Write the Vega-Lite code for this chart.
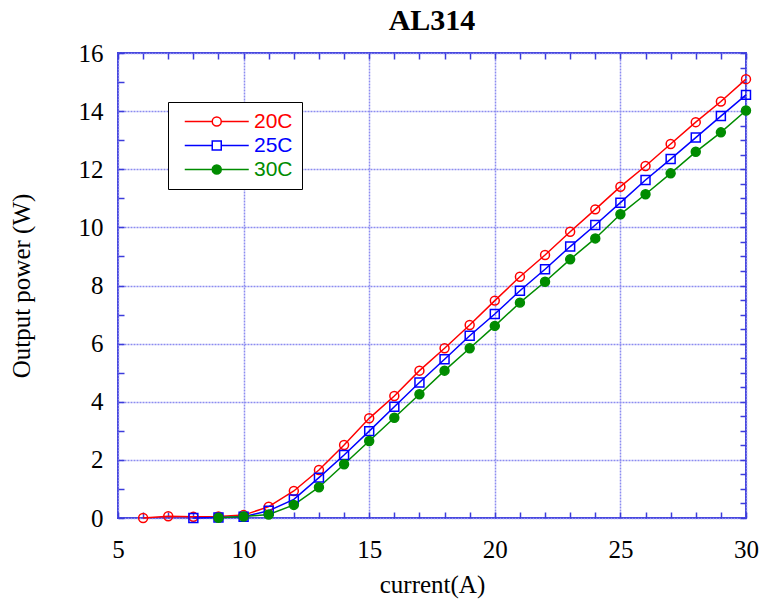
{
  "$schema": "https://vega.github.io/schema/vega-lite/v6.json",
  "width": 628,
  "height": 465,
  "autosize": {"type": "none"},
  "padding": {"left": 118, "top": 53, "right": 17, "bottom": 81},
  "background": "white",
  "title": {"text": "AL314", "font": "Liberation Serif", "fontSize": 30, "fontWeight": "bold", "color": "black", "offset": 5, "anchor": "middle"},
  "config": {
    "view": {"stroke": "#3c3cdc", "strokeWidth": 2},
    "axis": {
      "labelFont": "Liberation Serif", "labelFontSize": 25, "labelColor": "black",
      "titleFont": "Liberation Serif", "titleFontSize": 25, "titleFontWeight": "normal", "titleColor": "black",
      "tickColor": "#3c3cdc", "tickWidth": 1.5, "tickSize": -6, "domain": false,
      "gridColor": "#8c8cf0", "gridDash": [2, 1], "gridWidth": 1.5,
      "labelOverlap": false, "labelBound": false, "labelFlush": false
    }
  },
  "data": {"values": [
    {"I": 6, "P": 0.0, "T": "20C"}, {"I": 7, "P": 0.06, "T": "20C"}, {"I": 8, "P": 0.04, "T": "20C"}, {"I": 9, "P": 0.05, "T": "20C"}, {"I": 10, "P": 0.1, "T": "20C"},
    {"I": 11, "P": 0.39, "T": "20C"}, {"I": 12, "P": 0.93, "T": "20C"}, {"I": 13, "P": 1.65, "T": "20C"}, {"I": 14, "P": 2.51, "T": "20C"}, {"I": 15, "P": 3.43, "T": "20C"},
    {"I": 16, "P": 4.2, "T": "20C"}, {"I": 17, "P": 5.07, "T": "20C"}, {"I": 18, "P": 5.84, "T": "20C"}, {"I": 19, "P": 6.64, "T": "20C"}, {"I": 20, "P": 7.48, "T": "20C"},
    {"I": 21, "P": 8.3, "T": "20C"}, {"I": 22, "P": 9.05, "T": "20C"}, {"I": 23, "P": 9.85, "T": "20C"}, {"I": 24, "P": 10.62, "T": "20C"}, {"I": 25, "P": 11.4, "T": "20C"},
    {"I": 26, "P": 12.11, "T": "20C"}, {"I": 27, "P": 12.87, "T": "20C"}, {"I": 28, "P": 13.62, "T": "20C"}, {"I": 29, "P": 14.33, "T": "20C"}, {"I": 30, "P": 15.1, "T": "20C"},
    {"I": 8, "P": 0.0, "T": "25C"}, {"I": 9, "P": 0.02, "T": "25C"}, {"I": 10, "P": 0.04, "T": "25C"},
    {"I": 11, "P": 0.25, "T": "25C"}, {"I": 12, "P": 0.64, "T": "25C"}, {"I": 13, "P": 1.39, "T": "25C"}, {"I": 14, "P": 2.17, "T": "25C"}, {"I": 15, "P": 2.99, "T": "25C"},
    {"I": 16, "P": 3.83, "T": "25C"}, {"I": 17, "P": 4.66, "T": "25C"}, {"I": 18, "P": 5.46, "T": "25C"}, {"I": 19, "P": 6.27, "T": "25C"}, {"I": 20, "P": 7.02, "T": "25C"},
    {"I": 21, "P": 7.82, "T": "25C"}, {"I": 22, "P": 8.56, "T": "25C"}, {"I": 23, "P": 9.34, "T": "25C"}, {"I": 24, "P": 10.08, "T": "25C"}, {"I": 25, "P": 10.85, "T": "25C"},
    {"I": 26, "P": 11.63, "T": "25C"}, {"I": 27, "P": 12.35, "T": "25C"}, {"I": 28, "P": 13.09, "T": "25C"}, {"I": 29, "P": 13.83, "T": "25C"}, {"I": 30, "P": 14.56, "T": "25C"},
    {"I": 9, "P": 0.01, "T": "30C"}, {"I": 10, "P": 0.05, "T": "30C"},
    {"I": 11, "P": 0.12, "T": "30C"}, {"I": 12, "P": 0.45, "T": "30C"}, {"I": 13, "P": 1.06, "T": "30C"}, {"I": 14, "P": 1.85, "T": "30C"}, {"I": 15, "P": 2.65, "T": "30C"},
    {"I": 16, "P": 3.45, "T": "30C"}, {"I": 17, "P": 4.26, "T": "30C"}, {"I": 18, "P": 5.07, "T": "30C"}, {"I": 19, "P": 5.84, "T": "30C"}, {"I": 20, "P": 6.61, "T": "30C"},
    {"I": 21, "P": 7.41, "T": "30C"}, {"I": 22, "P": 8.13, "T": "30C"}, {"I": 23, "P": 8.9, "T": "30C"}, {"I": 24, "P": 9.62, "T": "30C"}, {"I": 25, "P": 10.45, "T": "30C"},
    {"I": 26, "P": 11.14, "T": "30C"}, {"I": 27, "P": 11.86, "T": "30C"}, {"I": 28, "P": 12.6, "T": "30C"}, {"I": 29, "P": 13.27, "T": "30C"}, {"I": 30, "P": 14.02, "T": "30C"}
  ]},
  "layer": [
    {
      "mark": {"type": "line", "strokeWidth": 1.5},
      "encoding": {
        "x": {"field": "I", "type": "quantitative", "scale": {"domain": [5, 30], "nice": false, "zero": false},
          "axis": {"orient": "bottom", "values": [5,6,7,8,9,10,11,12,13,14,15,16,17,18,19,20,21,22,23,24,25,26,27,28,29,30],
            "format": "d",
            "labelExpr": "datum.value % 5 == 0 ? datum.label : ''", "labelPadding": 25,
            "grid": true, "gridOpacity": {"condition": {"test": "datum.value % 5 == 0", "value": 1}, "value": 0},
            "title": "current(A)", "titlePadding": 10}},
        "y": {"field": "P", "type": "quantitative", "scale": {"domain": [0, 16], "nice": false},
          "axis": {"orient": "left", "values": [0,0.5,1,1.5,2,2.5,3,3.5,4,4.5,5,5.5,6,6.5,7,7.5,8,8.5,9,9.5,10,10.5,11,11.5,12,12.5,13,13.5,14,14.5,15,15.5,16],
            "format": "d",
            "labelExpr": "datum.value % 2 == 0 ? datum.label : ''", "labelPadding": 21,
            "grid": true, "gridOpacity": {"condition": {"test": "datum.value % 2 == 0", "value": 1}, "value": 0},
            "title": "Output power (W)", "titlePadding": 44}},
        "color": {"field": "T", "type": "nominal", "scale": {"domain": ["20C", "25C", "30C"], "range": ["#ff0000", "#0000ff", "#008c00"]}, "legend": null}
      }
    },
    {
      "mark": {"type": "point", "size": 80, "strokeWidth": 1.5, "opacity": 1},
      "encoding": {
        "x": {"field": "I", "type": "quantitative",
          "axis": {"orient": "top", "values": [5,6,7,8,9,10,11,12,13,14,15,16,17,18,19,20,21,22,23,24,25,26,27,28,29,30], "labels": false, "grid": false, "title": null}},
        "y": {"field": "P", "type": "quantitative",
          "axis": {"orient": "right", "values": [0,0.5,1,1.5,2,2.5,3,3.5,4,4.5,5,5.5,6,6.5,7,7.5,8,8.5,9,9.5,10,10.5,11,11.5,12,12.5,13,13.5,14,14.5,15,15.5,16], "labels": false, "grid": false, "title": null}},
        "color": {"field": "T", "type": "nominal", "scale": {"domain": ["20C", "25C", "30C"], "range": ["#ff0000", "#0000ff", "#008c00"]}, "legend": null},
        "shape": {"field": "T", "type": "nominal", "scale": {"domain": ["20C", "25C", "30C"], "range": ["circle", "square", "circle"]}, "legend": null},
        "fill": {"field": "T", "type": "nominal", "scale": {"domain": ["20C", "25C", "30C"], "range": ["transparent", "transparent", "#008c00"]}, "legend": null}
      }
    },
    {
      "transform": [{"filter": "datum.I < 0"}],
      "mark": {"type": "point", "size": 100, "strokeWidth": 1.5, "opacity": 1},
      "encoding": {
        "x": {"field": "I", "type": "quantitative", "axis": null},
        "y": {"field": "P", "type": "quantitative", "axis": null},
        "color": {"field": "T", "type": "nominal", "scale": {"domain": ["20C", "25C", "30C"], "range": ["#ff0000", "#0000ff", "#008c00"]},
          "legend": {"title": null, "orient": "none", "legendX": 50, "legendY": 49,
            "padding": 9, "rowPadding": 2, "strokeColor": "black", "fillColor": "white",
            "symbolSize": 100, "symbolStrokeWidth": 1.5, "labelOffset": 56,
            "labelFont": "Liberation Sans", "labelFontSize": 21, "labelBaseline": "middle",
            "labelExpr": "datum.label + '\u00a0\u00a0'",
            "labelColor": {"expr": "datum.value == '20C' ? '#ff0000' : datum.value == '25C' ? '#0000ff' : '#008c00'"}}},
        "shape": {"field": "T", "type": "nominal", "scale": {"domain": ["20C", "25C", "30C"], "range": [
          "M-0.55,0H4.95M6.75,0H12.25M6.75,0A0.9,0.9,0,1,1,4.95,0A0.9,0.9,0,1,1,6.75,0",
          "M-0.55,0H4.95M6.75,0H12.25M4.95,-0.9H6.75V0.9H4.95Z",
          "M-0.55,0H4.95M6.75,0H12.25M6.75,0A0.9,0.9,0,1,1,4.95,0A0.9,0.9,0,1,1,6.75,0"]}},
        "fill": {"field": "T", "type": "nominal", "scale": {"domain": ["20C", "25C", "30C"], "range": ["transparent", "transparent", "#008c00"]}}
      }
    }
  ],
  "resolve": {
    "axis": {"x": "independent", "y": "independent"},
    "scale": {"color": "independent", "shape": "independent", "fill": "independent"}
  }
}
